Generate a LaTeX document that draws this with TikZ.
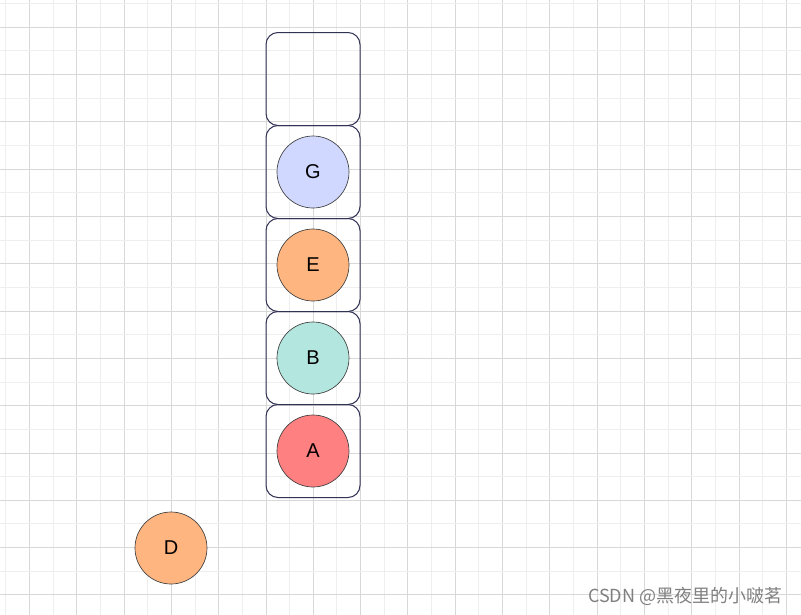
\documentclass[tikz,border=0pt]{standalone}
\usepackage{fontspec}
\setmainfont{Liberation Sans}
\newfontfamily\cjk{Noto Sans CJK SC}
\usepackage{xcolor}
\definecolor{gridminor}{RGB}{238,238,238}
\definecolor{gridmajor}{RGB}{216,216,216}
\definecolor{slotline}{RGB}{50,50,85}
\definecolor{ballG}{RGB}{208,216,255}
\definecolor{ballE}{RGB}{255,181,128}
\definecolor{ballB}{RGB}{179,230,222}
\definecolor{ballA}{RGB}{255,128,128}

\begin{document}
\begin{tikzpicture}[
  x=0.75pt, y=-0.75pt,
  slot/.style={draw=slotline, line width=0.75pt, rounded corners=9pt, minimum width=70.5pt, minimum height=69.75pt},
  ball/.style={circle, draw=black!75, line width=0.5pt, minimum size=54pt, inner sep=0pt, font=\fontsize{15}{18}\selectfont},
  watermark/.style={text=black!50, font=\cjk\fontsize{13.5}{16}\selectfont}
]
  \useasboundingbox (0,0) rectangle (801,615);
  \fill[white] (0,0) rectangle (801,615);

  % Grid
  \foreach \i in {0,...,16} {
    \draw[gridminor, line width=0.75pt] (5.85+47.3*\i,0) -- (5.85+47.3*\i,615);
    \draw[gridmajor, line width=0.75pt] (29.5+47.3*\i,0) -- (29.5+47.3*\i,615);
  }
  \foreach \j in {0,...,12} {
    \draw[gridminor, line width=0.75pt] (0,3.65+47.3*\j) -- (801,3.65+47.3*\j);
    \draw[gridmajor, line width=0.75pt] (0,27.3+47.3*\j) -- (801,27.3+47.3*\j);
  }

  % Stack slots
  \node[slot] (slot5) at (313,79) {};
  \node[slot] (slot4) at (313,172) {};
  \node[slot] (slot3) at (313,265) {};
  \node[slot] (slot2) at (313,358) {};
  \node[slot] (slot1) at (313,451) {};

  % Balls in the stack
  \node[ball, fill=ballG] (G) at (slot4) {G};
  \node[ball, fill=ballE] (E) at (slot3) {E};
  \node[ball, fill=ballB] (B) at (slot2) {B};
  \node[ball, fill=ballA] (A) at (slot1) {A};

  % Ball outside
  \node[ball, fill=ballE] (D) at (171,548) {D};

  % Watermark
  \node[watermark, anchor=east] (wm) at (787,596) {CSDN @黑夜里的小啵茗};
\end{tikzpicture}
\end{document}
